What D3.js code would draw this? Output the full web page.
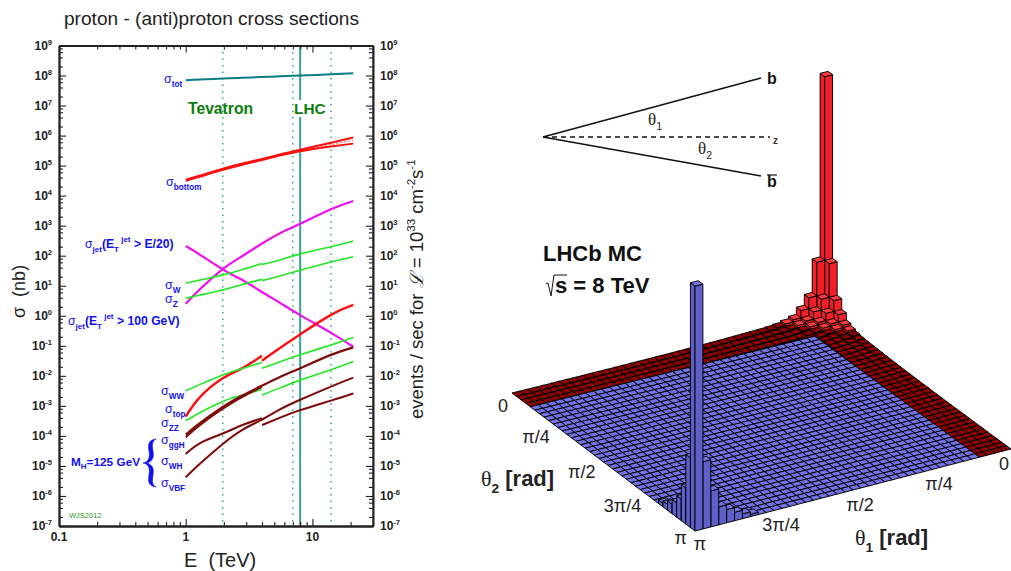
<!DOCTYPE html>
<html>
<head>
<meta charset="utf-8">
<script src="https://cdn.jsdelivr.net/npm/d3@7"></script>
<style>
  html, body { margin: 0; padding: 0; background: #fff; }
  svg { display: block; font-family: "Liberation Sans", Arial, sans-serif; }
  .sym { font-family: "Liberation Serif", serif; }
</style>
</head>
<body>
<div id="chart"></div>
<script>
// left panel: cross sections vs energy
const energy = [1, 1.3, 1.96, 2.8, 4, 5.5, 8, 14, 21];
const energyHigh = [4, 5.5, 8, 14, 21];
const energyLow = [1, 1.3, 1.96, 2.8, 4];

const sigmaTot = [7e7, 7.4e7, 7.9e7, 8.4e7, 8.9e7, 9.4e7, 1e8, 1.1e8, 1.2e8];
const bottomUpper = [3.4e4, 4.7e4, 7.9e4, 1.17e5, 1.68e5, 2.35e5, 3.4e5, 5.8e5, 8.6e5];
const bottomLower = [3.1e4, 4.3e4, 7.2e4, 1.07e5, 1.55e5, 2.15e5, 3e5, 4.3e5, 5.4e5];
const bottomMid = [1.6e5, 2.2e5, 3.2e5, 5e5, 7e5];
const jetRising = [2.5, 7.8, 36, 98, 255, 550, 1150, 3500, 6600];
const jetFalling = [210, 107, 35, 15.5, 6.2, 2.75, 1.05, 0.27, 0.093];
const sigmaW = [12, 15.5, 23, 35, 55];
const sigmaWHigh = [51, 72, 115, 200, 310];
const sigmaZ = [3.8, 4.9, 7.2, 11, 16.5];
const sigmaZHigh = [14.8, 21, 33, 62, 93];
const topLow = [4.4e-4, 2e-3, 8.3e-3, 1.8e-2, 4.7e-2];
const topHigh = [3.2e-2, 8.3e-2, 0.24, 1.07, 2.3];
const wwLow = [3.2e-3, 5.2e-3, 1.07e-2, 1.75e-2, 2.8e-2];
const wwHigh = [1.8e-2, 2.9e-2, 5e-2, 0.107, 0.19];
const zzLow = [3.2e-4, 6e-4, 1.4e-3, 2.3e-3, 3.5e-3];
const zzHigh = [2.3e-3, 3.9e-3, 7.2e-3, 1.6e-2, 3e-2];
const ggH = [1.1e-4, 2.7e-4, 9.2e-4, 2.2e-3, 4.7e-3, 9e-3, 1.8e-2, 5e-2, 8.9e-2];
const ggHLow = [0.9e-4, 2.3e-4, 8e-4, 2e-3, 4.3e-3];
const wLow = [2.5e-5, 5.8e-5, 1.2e-4, 2.3e-4, 3.9e-4];
const wHigh = [2.3e-4, 4e-4, 7.2e-4, 1.5e-3, 2.6e-3];
const vbf = [4.2e-6, 1.2e-5, 5.4e-5, 1.6e-4, 3.5e-4, 7.5e-4, 1.6e-3, 4.4e-3, 8.7e-3];

const yMajor = d3.range(-7, 10);
const xMajor = [0.1, 1, 10];
const xMinor = [0.2, 0.3, 0.4, 0.5, 0.6, 0.7, 0.8, 0.9, 2, 3, 4, 5, 6, 7, 8, 9, 20];
const yMinorFactors = [2, 4, 6, 8];
const colliderDotted = [1.96, 7, 14];
const colliderSolid = 8;

// right panel: 40 x 40 bins in theta1, theta2
const nBins = 40;
const thetaTicks = [
  { v: 0, label: "0" },
  { v: Math.PI / 4, label: "π/4" },
  { v: Math.PI / 2, label: "π/2" },
  { v: 3 * Math.PI / 4, label: "3π/4" },
  { v: Math.PI, label: "π" }
];
// bin contents near theta1 = theta2 = 0, in percent of the peak
const redCore = [
  [101.5, 25, 11, 6.5, 3.5, 2.5, 1.8, 1.4],
  [25, 11, 6.5, 3.5, 2.5, 1.6, 1.2, 1],
  [11, 6.5, 3.5, 2.5, 1.5, 1, 0.8, 0.7],
  [6.5, 3.5, 2.5, 1.5, 1, 0.7, 0.6, 0.5],
  [3.5, 2.5, 1.5, 1, 0, 0, 0, 0],
  [2.5, 1.6, 1, 0.7, 0, 0, 0, 0],
  [1.8, 1.2, 0.8, 0.6, 0, 0, 0, 0],
  [1.4, 1, 0.7, 0.5, 0, 0, 0, 0]
];
// same, near theta1 = theta2 = pi (counted from that corner)
const blueCore = [
  [102, 29, 15, 9, 6, 4, 2.5, 1.5],
  [28, 12, 5, 3, 2, 1, 0.6, 0.3],
  [15, 5, 2.5, 1.5, 0.8, 0.4, 0.2, 0],
  [7.5, 3, 1.5, 0.8, 0.4, 0.2, 0, 0],
  [5.5, 2, 0.8, 0.4, 0.2, 0, 0, 0],
  [3.5, 1, 0.4, 0.2, 0, 0, 0, 0],
  [2, 0.6, 0.2, 0, 0, 0, 0, 0],
  [1, 0.3, 0, 0, 0, 0, 0, 0]
];
// red band outside the core, bins 8 to 39 along the edge
const rimHeights = [
  [1.2, 1.1, 1, 0.9, 0.8, 0.7, 0.6, 0.55, 0.5, 0.45, 0.4, 0.35, 0.3, 0.3, 0.25, 0.2, 0.2, 0.15, 0.15, 0.1, 0.1, 0.1, 0.1, 0.05, 0.05, 0.05, 0.05, 0, 0, 0, 0, 0],
  [0.9, 0.8, 0.7, 0.65, 0.6, 0.5, 0.45, 0.4, 0.35, 0.3, 0.3, 0.25, 0.2, 0.2, 0.15, 0.15, 0.1, 0.1, 0.1, 0.05, 0.05, 0.05, 0, 0, 0, 0, 0, 0, 0, 0, 0, 0],
  [0.6, 0.55, 0.5, 0.45, 0.4, 0.35, 0.3, 0.25, 0.25, 0.2, 0.2, 0.15, 0.15, 0.1, 0.1, 0.1, 0.05, 0.05, 0, 0, 0, 0, 0, 0, 0, 0, 0, 0, 0, 0, 0, 0],
  [0.45, 0.4, 0.35, 0.3, 0.3, 0.25, 0.2, 0.2, 0.15, 0.15, 0.1, 0.1, 0.1, 0.05, 0.05, 0, 0, 0, 0, 0, 0, 0, 0, 0, 0, 0, 0, 0, 0, 0, 0, 0]
];
const redBand = 4;

const width = 1011;
const height = 571;
const tealLine = "#0b7d85";
const teal = "#3a9ea5";
const blueText = "#1010f0";
const red = "#fa1010";
const magenta = "#ef10ef";
const green = "#22e822";
const darkRed = "#7d0a0a";

const svg = d3.select("#chart").append("svg")
  .attr("width", width)
  .attr("height", height);

// ---- left panel ----
const x = d3.scaleLog().domain([0.1, 30]).range([59, 372.9]);
const y = d3.scaleLog().domain([1e-7, 1e9]).range([526, 45.5]);
const left = svg.append("g");

// collider lines go under everything
colliderDotted.forEach(e => {
  left.append("line")
    .attr("x1", x(e)).attr("x2", x(e))
    .attr("y1", y(1e9)).attr("y2", y(1e-7))
    .attr("stroke", teal)
    .attr("stroke-width", 1.5)
    .attr("stroke-dasharray", "1.5 5");
});
left.append("line")
  .attr("x1", x(colliderSolid)).attr("x2", x(colliderSolid))
  .attr("y1", y(1e9)).attr("y2", y(1e-7))
  .attr("stroke", teal)
  .attr("stroke-width", 2);

const curve = d3.line()
  .x(d => x(d[0]))
  .y(d => y(d[1]))
  .curve(d3.curveNatural);

function drawCurve(es, vals, color, w, dash) {
  left.append("path")
    .attr("d", curve(es.map((e, i) => [e, vals[i]])))
    .attr("fill", "none")
    .attr("stroke", color)
    .attr("stroke-width", w)
    .attr("stroke-dasharray", dash || null);
}

drawCurve(energy, sigmaTot, tealLine, 2);
drawCurve(energy, bottomUpper, red, 2);
drawCurve(energy, bottomLower, red, 2);
drawCurve(energyHigh, bottomMid, red, 0.7, "2 2");
drawCurve(energy, jetRising, magenta, 2.2);
drawCurve(energy, jetFalling, magenta, 2.2);
drawCurve(energyLow, sigmaW, green, 1.6);
drawCurve(energyHigh, sigmaWHigh, green, 1.6);
drawCurve(energyLow, sigmaZ, green, 1.6);
drawCurve(energyHigh, sigmaZHigh, green, 1.6);
drawCurve(energyLow, topLow, red, 2.4);
drawCurve(energyHigh, topHigh, red, 2.4);
drawCurve(energyLow, wwLow, green, 1.6);
drawCurve(energyHigh, wwHigh, green, 1.6);
drawCurve(energyLow, zzLow, green, 1.6);
drawCurve(energyHigh, zzHigh, green, 1.6);
drawCurve(energy, ggH, darkRed, 2.2);
drawCurve(energyLow, ggHLow, darkRed, 2);
drawCurve(energyLow, wLow, darkRed, 2);
drawCurve(energyHigh, wHigh, darkRed, 2);
drawCurve(energy, vbf, darkRed, 2);

// axes, all ticks point inwards
const yMinor = yMajor.slice(0, -1).flatMap(p => yMinorFactors.map(f => f * Math.pow(10, p)));
const yMajorVals = yMajor.map(p => Math.pow(10, p));
function addAxis(gen, tx, ty) {
  left.append("g")
    .attr("transform", `translate(${tx},${ty})`)
    .call(gen.tickFormat("").tickSizeOuter(0))
    .call(g => g.select(".domain").attr("stroke-width", 1.8).attr("stroke", "#222"))
    .call(g => g.selectAll(".tick line").attr("stroke", "#222").attr("stroke-width", 1.1));
}
addAxis(d3.axisLeft(y).tickValues(yMajorVals).tickSizeInner(-7), x.range()[0], 0);
addAxis(d3.axisLeft(y).tickValues(yMinor).tickSizeInner(-4), x.range()[0], 0);
addAxis(d3.axisRight(y).tickValues(yMajorVals).tickSizeInner(-7), x.range()[1], 0);
addAxis(d3.axisRight(y).tickValues(yMinor).tickSizeInner(-4), x.range()[1], 0);
addAxis(d3.axisBottom(x).tickValues(xMajor).tickSizeInner(-7), 0, y.range()[0]);
addAxis(d3.axisBottom(x).tickValues(xMinor).tickSizeInner(-4), 0, y.range()[0]);
addAxis(d3.axisTop(x).tickValues(xMajor).tickSizeInner(-7), 0, y.range()[1]);
addAxis(d3.axisTop(x).tickValues(xMinor).tickSizeInner(-4), 0, y.range()[1]);

function powerLabel(sel, p) {
  sel.append("tspan").text("10");
  sel.append("tspan").text(p)
    .attr("font-size", 7.5)
    .attr("dy", -5);
}
yMajor.forEach(p => {
  left.append("text")
    .attr("x", 52).attr("y", y(Math.pow(10, p)) + 4)
    .attr("text-anchor", "end")
    .attr("font-size", 12).attr("font-weight", "bold").attr("fill", "#222")
    .call(powerLabel, p);
  left.append("text")
    .attr("x", 380).attr("y", y(Math.pow(10, p)) + 4)
    .attr("font-size", 12).attr("font-weight", "bold").attr("fill", "#222")
    .call(powerLabel, p);
});
xMajor.forEach(v => {
  left.append("text")
    .attr("x", x(v)).attr("y", 541)
    .attr("text-anchor", "middle")
    .attr("font-size", 12).attr("font-weight", "bold").attr("fill", "#222")
    .text(v);
});

left.append("text")
  .attr("x", 64).attr("y", 25)
  .attr("font-size", 19.1).attr("fill", "#222")
  .text("proton - (anti)proton cross sections");
left.append("text")
  .attr("x", 184).attr("y", 567)
  .attr("font-size", 20).attr("fill", "#222")
  .attr("xml:space", "preserve")
  .text("E  (TeV)");
left.append("text")
  .attr("transform", "translate(25,318) rotate(-90)")
  .attr("font-size", 18).attr("fill", "#222")
  .attr("xml:space", "preserve")
  .text("σ  (nb)");
const evLabel = left.append("text")
  .attr("transform", "translate(423,419) rotate(-90)")
  .attr("font-size", 18.5).attr("fill", "#222")
  .attr("xml:space", "preserve");
evLabel.append("tspan").text("events / sec for ");
evLabel.append("tspan").text("ℒ").attr("class", "sym").attr("font-style", "italic");
evLabel.append("tspan").text(" = 10");
evLabel.append("tspan").text("33").attr("font-size", 11.5).attr("dy", -8);
evLabel.append("tspan").text(" cm").attr("dy", 8);
evLabel.append("tspan").text("-2").attr("font-size", 11.5).attr("dy", -8);
evLabel.append("tspan").text("s").attr("dy", 8);
evLabel.append("tspan").text("-1").attr("font-size", 11.5).attr("dy", -8);

// white gap behind LHC
left.append("rect")
  .attr("x", 294).attr("y", 100).attr("width", 34).attr("height", 17)
  .attr("fill", "#fff");
left.append("text")
  .attr("x", 188).attr("y", 114)
  .attr("font-size", 15.7).attr("font-weight", "bold").attr("fill", "#0a7d0a")
  .text("Tevatron");
left.append("text")
  .attr("x", 294).attr("y", 114)
  .attr("font-size", 15.4).attr("font-weight", "bold").attr("fill", "#0a7d0a")
  .text("LHC");
left.append("text")
  .attr("x", 69).attr("y", 518)
  .attr("font-size", 7.5).attr("fill", "#2a9a2a")
  .text("WJS2012");

function sigmaLabel(xp, yp, sub) {
  const t = left.append("text")
    .attr("x", xp).attr("y", yp)
    .attr("fill", blueText).attr("font-size", 12.5);
  t.append("tspan").text("σ");
  t.append("tspan").text(sub).attr("font-size", 8.2).attr("font-weight", "bold").attr("dy", 4);
}
sigmaLabel(164, 83, "tot");
sigmaLabel(166, 186, "bottom");
sigmaLabel(165, 289, "W");
sigmaLabel(165, 303, "Z");
sigmaLabel(161, 395, "WW");
sigmaLabel(165, 413, "top");
sigmaLabel(161, 427, "ZZ");
sigmaLabel(161, 444, "ggH");
sigmaLabel(161, 465, "WH");
sigmaLabel(161, 487, "VBF");

function jetLabel(xp, yp, tail) {
  const t = left.append("text")
    .attr("x", xp).attr("y", yp)
    .attr("fill", blueText).attr("font-size", 12.2).attr("font-weight", "bold");
  t.append("tspan").text("σ").attr("font-weight", "normal");
  t.append("tspan").text("jet").attr("font-size", 8).attr("dy", 4);
  t.append("tspan").text("(E").attr("dy", -4);
  t.append("tspan").text("T").attr("font-size", 8).attr("dy", 4);
  t.append("tspan").text(" jet").attr("font-size", 8).attr("dy", -10);
  t.append("tspan").text(tail).attr("dy", 6).attr("xml:space", "preserve");
}
jetLabel(85, 248, " > E/20)");
jetLabel(68, 325, " > 100 GeV)");

const mh = left.append("text")
  .attr("x", 71).attr("y", 466)
  .attr("fill", blueText).attr("font-size", 11.8).attr("font-weight", "bold");
mh.append("tspan").text("M");
mh.append("tspan").text("H").attr("font-size", 8).attr("dy", 3);
mh.append("tspan").text("=125 GeV").attr("dy", -3);

left.append("path")
  .attr("d", "M156,439 C148,440 148,445 149,451 C150,457 149,462 143,463 C149,464 150,469 149,475 C148,481 148,486 156,487 C152,485 152,481 153,475 C154,469 153,465 147,463 C153,461 154,457 153,451 C152,445 152,441 156,439 Z")
  .attr("fill", blueText)
  .attr("stroke", blueText)
  .attr("stroke-width", 0.6);

// ---- right panel ----
const right = svg.append("g");

// angle diagram
const origin = [543, 137];
const diagramLines = [
  { to: [761, 78], dash: null },
  { to: [761, 176], dash: null },
  { to: [770, 137], dash: "5 4" }
];
diagramLines.forEach(d => {
  right.append("line")
    .attr("x1", origin[0]).attr("y1", origin[1])
    .attr("x2", d.to[0]).attr("y2", d.to[1])
    .attr("stroke", "#111")
    .attr("stroke-width", 1.5)
    .attr("stroke-dasharray", d.dash);
});
right.append("text").attr("x", 767).attr("y", 84)
  .attr("font-size", 16).attr("font-weight", "bold").attr("fill", "#111").text("b");
right.append("text").attr("x", 767).attr("y", 187)
  .attr("font-size", 16).attr("font-weight", "bold").attr("fill", "#111").text("b");
right.append("line").attr("x1", 767).attr("x2", 777).attr("y1", 175).attr("y2", 175)
  .attr("stroke", "#111").attr("stroke-width", 1.2);
right.append("text").attr("x", 773).attr("y", 144)
  .attr("font-size", 10).attr("font-weight", "bold").attr("fill", "#333").text("z");

function thetaLabel(g, xp, yp, n, size, tail) {
  const t = g.append("text")
    .attr("x", xp).attr("y", yp)
    .attr("font-size", size).attr("fill", "#222");
  t.append("tspan").text("θ").attr("class", "sym");
  t.append("tspan").text(n)
    .attr("font-size", size * 0.62)
    .attr("font-weight", tail ? "bold" : "normal")
    .attr("dy", size * 0.3);
  if (tail) {
    t.append("tspan").text(tail)
      .attr("font-weight", "bold")
      .attr("dy", -size * 0.3)
      .attr("xml:space", "preserve");
  }
}
thetaLabel(right, 648, 125, "1", 17);
thetaLabel(right, 698, 154, "2", 17);

right.append("text").attr("x", 543).attr("y", 261)
  .attr("font-size", 22).attr("font-weight", "bold").attr("fill", "#111").text("LHCb MC");
right.append("text").attr("x", 555).attr("y", 293)
  .attr("font-size", 22).attr("font-weight", "bold").attr("fill", "#111").text("s = 8 TeV");
right.append("path")
  .attr("d", "M546,284 L548,283 L551,296 L554,275 L567,275")
  .attr("fill", "none")
  .attr("stroke", "#111")
  .attr("stroke-width", 1);

// base of the histogram, corners of the theta1/theta2 plane on screen
const corners = { back: [828, 315], left: [512, 393], right: [1011, 449], front: [695, 531] };
const u = d3.scaleLinear().domain([0, nBins]).range([0, 1]);
const v = d3.scaleLinear().domain([0, nBins]).range([0, 1]);
const uAngle = d3.scaleLinear().domain([0, Math.PI]).range([0, nBins]);
const heightPx = d3.scaleLinear().domain([0, 100]).range([0, 240]);

function project(i, j) {
  const a = u(i), b = v(j);
  const c = corners;
  return [0, 1].map(k =>
    (1 - a) * (1 - b) * c.back[k] + a * (1 - b) * c.left[k] +
    (1 - a) * b * c.right[k] + a * b * c.front[k]);
}

const cells = [];
for (let i = 0; i < nBins; i++) {
  for (let j = 0; j < nBins; j++) {
    const lo = Math.min(i, j), hi = Math.max(i, j);
    let h = 0;
    if (hi < redCore.length) h = redCore[i][j];
    else if (lo < redBand) h = rimHeights[lo][hi - redCore.length];
    const p = nBins - 1 - i, q = nBins - 1 - j;
    if (p < blueCore.length && q < blueCore.length) h = blueCore[p][q];
    const isRed = lo < redBand;
    cells.push({ i, j, h, isRed });
  }
}
// back to front
cells.sort((a, b) => (a.i + a.j) - (b.i + b.j));

const poly = pts => "M" + pts.map(p => p.join(",")).join("L") + "Z";
const up = (p, h) => [p[0], p[1] - heightPx(h)];

const bars = right.selectAll("g.bar")
  .data(cells)
  .enter()
  .append("g")
  .attr("class", "bar")
  .attr("stroke", "#000")
  .attr("stroke-width", 0.95)
  .attr("stroke-linejoin", "round");

bars.each(function (d) {
  const g = d3.select(this);
  const b00 = project(d.i, d.j);
  const b10 = project(d.i + 1, d.j);
  const b01 = project(d.i, d.j + 1);
  const b11 = project(d.i + 1, d.j + 1);
  const bright = d.h >= 2.4;
  const side = d.isRed ? (bright ? "#f51e28" : "#8a0000") : "#5f5fc8";
  const top = d.isRed ? (bright ? "#ff3c3c" : "#8c0000") : "#7272e6";
  if (d.h > 0) {
    g.append("path").attr("fill", side).attr("d", poly([b10, b11, up(b11, d.h), up(b10, d.h)]));
    g.append("path").attr("fill", side).attr("d", poly([b01, b11, up(b11, d.h), up(b01, d.h)]));
  }
  g.append("path").attr("fill", top)
    .attr("d", poly([up(b00, d.h), up(b10, d.h), up(b11, d.h), up(b01, d.h)]));
});

// tick labels along the two front edges
thetaTicks.forEach(t => {
  const p = project(nBins, uAngle(t.v));
  right.append("text")
    .attr("x", p[0] - (t.v === 0 ? 4 : 8))
    .attr("y", p[1] + (t.v === 0 ? 19 : (t.v === Math.PI ? 13 : 15.5)))
    .attr("text-anchor", "end")
    .attr("font-size", 18).attr("fill", "#222")
    .text(t.label);
  const q = project(uAngle(t.v), nBins);
  const dx = t.v === 0 ? -7 : (t.v === Math.PI ? 5 : 7);
  right.append("text")
    .attr("x", q[0] + dx).attr("y", q[1] + (t.v === Math.PI ? 19 : 20.5))
    .attr("text-anchor", "middle")
    .attr("font-size", 18).attr("fill", "#222")
    .text(t.label);
});
thetaLabel(right, 481, 486, "2", 22, " [rad]");
thetaLabel(right, 855, 545, "1", 22, " [rad]");
</script>
</body>
</html>
